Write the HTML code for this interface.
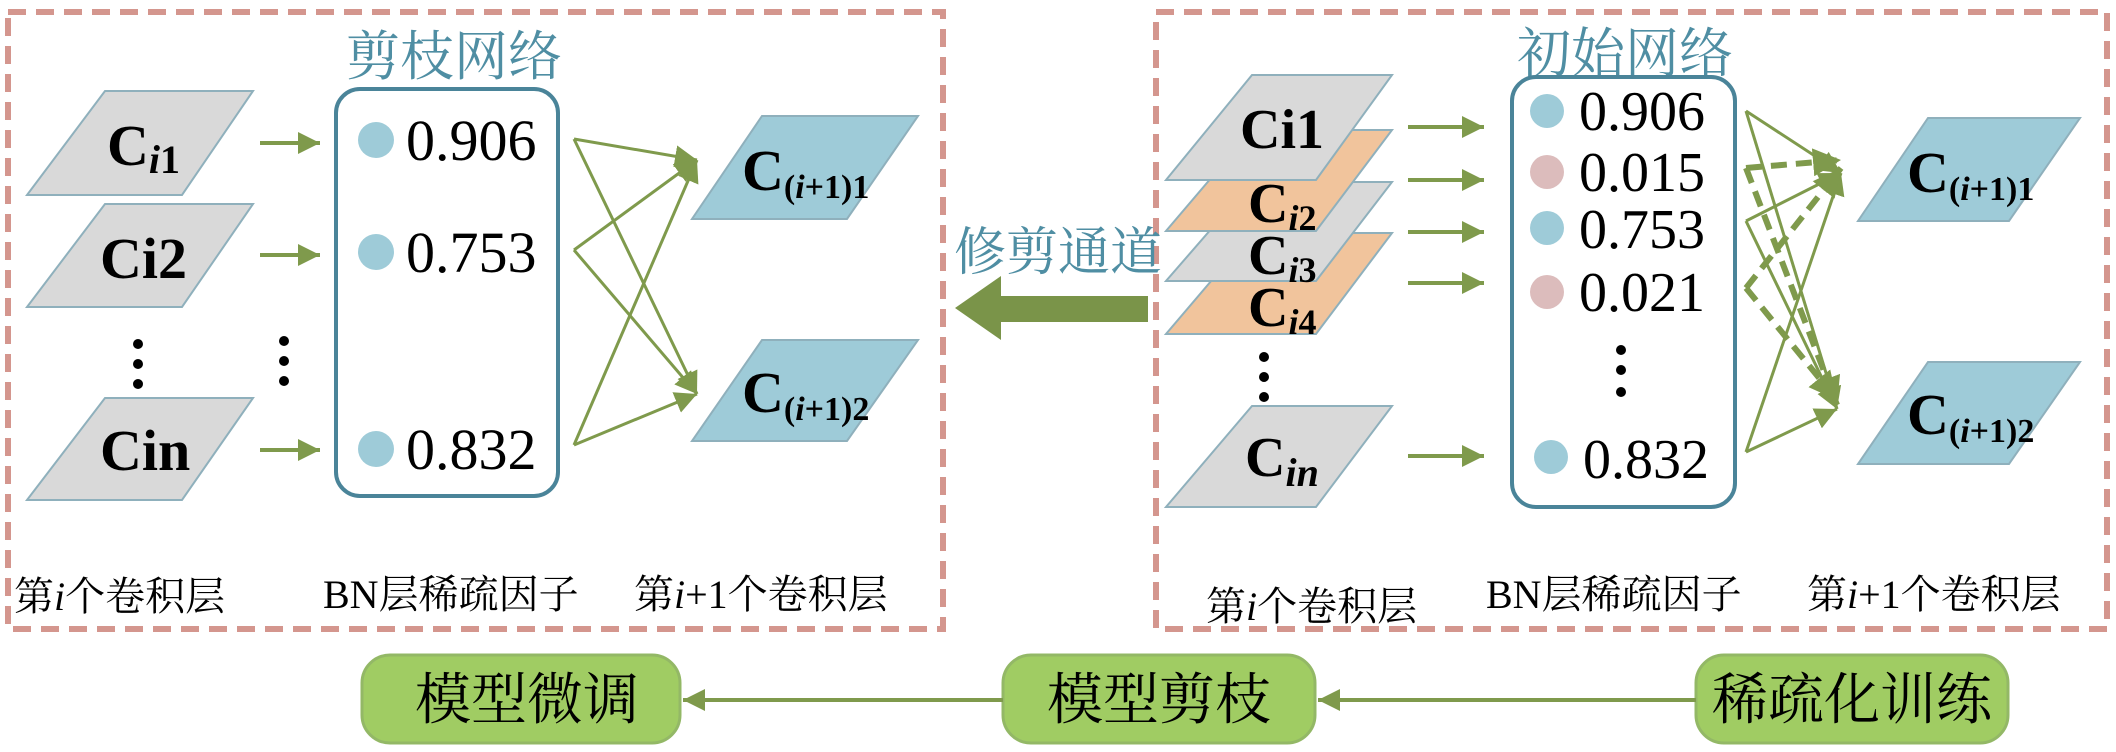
<!DOCTYPE html>
<html><head><meta charset="utf-8"><style>
html,body{margin:0;padding:0;background:#fff;}
svg{display:block;}
.cj{font-family:"Liberation Serif","Noto Serif CJK SC","Noto Sans CJK SC",serif;}
.bd{font-family:"Liberation Serif",serif;font-weight:bold;fill:#000;}
.num{font-family:"Liberation Serif",serif;fill:#000;}
</style></head><body>
<svg width="2116" height="752" viewBox="0 0 2116 752" xmlns="http://www.w3.org/2000/svg">
<defs>
<marker id="ah" viewBox="0 0 10 10" refX="10" refY="5" markerWidth="22" markerHeight="22" markerUnits="userSpaceOnUse" orient="auto"><path d="M0,0 L10,5 L0,10 z" fill="#7f9a4c"/></marker>
<marker id="ah2" viewBox="0 0 10 10" refX="10" refY="5" markerWidth="28" markerHeight="28" markerUnits="userSpaceOnUse" orient="auto"><path d="M0,0 L10,5 L0,10 z" fill="#7f9a4c"/></marker>
</defs>
<!-- dashed boxes -->
<rect x="8" y="12" width="935" height="617" fill="none" stroke="#d4968e" stroke-width="6" stroke-dasharray="18 10"/>
<rect x="1156" y="12" width="951" height="617" fill="none" stroke="#d4968e" stroke-width="6" stroke-dasharray="18 10"/>

<!-- LEFT -->
<text x="454" y="75" font-size="54" fill="#4f8ea3" text-anchor="middle" class="cj">剪枝网络</text>
<g stroke="#8fb0bc" stroke-width="2" fill="#d9d9d9">
<polygon points="105,91 253,91 182,195 27,195"/>
<polygon points="105,204 253,204 182,307 27,307"/>
<polygon points="105,398 253,398 182,500 27,500"/>
</g>
<text x="107" y="165" class="bd" font-size="58">C<tspan font-size="40" font-style="italic" dy="8">i</tspan><tspan font-size="40" dy="0">1</tspan></text>
<text x="100" y="278" class="bd" font-size="58">Ci2</text>
<text x="100" y="470" class="bd" font-size="58">Cin</text>
<g stroke="#7f9a4c" stroke-width="4" marker-end="url(#ah)">
<line x1="260" y1="143" x2="320" y2="143"/>
<line x1="260" y1="255" x2="320" y2="255"/>
<line x1="260" y1="450" x2="320" y2="450"/>
</g>
<g fill="#000">
<circle cx="138" cy="344" r="5"/><circle cx="138" cy="364" r="5"/><circle cx="138" cy="384" r="5"/>
<circle cx="284" cy="341" r="5"/><circle cx="284" cy="361" r="5"/><circle cx="284" cy="381" r="5"/>
<circle cx="446" cy="341" r="5"/><circle cx="446" cy="361" r="5"/><circle cx="446" cy="381" r="5"/>
</g>
<rect x="336" y="89" width="222" height="407" rx="24" fill="#fff" stroke="#4a8499" stroke-width="4"/>
<g fill="#9ecbd8"><circle cx="376" cy="140" r="18"/><circle cx="376" cy="252" r="18"/><circle cx="376" cy="449" r="18"/></g>
<g class="num" font-size="58"><text x="406" y="160">0.906</text><text x="406" y="272">0.753</text><text x="406" y="469">0.832</text></g>
<g stroke="#7f9a4c" stroke-width="3" fill="none" marker-end="url(#ah)">
<line x1="574" y1="139" x2="697" y2="160"/>
<line x1="574" y1="139" x2="697" y2="394"/>
<line x1="574" y1="250" x2="697" y2="160"/>
<line x1="574" y1="250" x2="697" y2="394"/>
<line x1="574" y1="445" x2="697" y2="160"/>
<line x1="574" y1="445" x2="697" y2="394"/>
</g>
<g stroke="#8fb0bc" stroke-width="2" fill="#9ecbd8">
<polygon points="762,116 918,116 847,219 692,219"/>
<polygon points="762,340 918,340 847,441 692,441"/>
</g>
<text x="742" y="190" class="bd" font-size="58">C<tspan font-size="34" dy="8">(<tspan font-style="italic">i</tspan>+1)1</tspan></text>
<text x="742" y="412" class="bd" font-size="58">C<tspan font-size="34" dy="8">(<tspan font-style="italic">i</tspan>+1)2</tspan></text>
<g class="cj" font-size="40" fill="#000">
<text x="14" y="610">第<tspan font-style="italic">i</tspan>个卷积层</text>
<text x="323" y="608">BN层稀疏因子</text>
<text x="634" y="608">第<tspan font-style="italic">i</tspan>+1个卷积层</text>
</g>

<!-- middle arrow -->
<text x="1058" y="270" font-size="52" fill="#4f8ea3" text-anchor="middle" class="cj">修剪通道</text>
<polygon points="955,308 1001,276 1001,296 1148,296 1148,322 1001,322 1001,340" fill="#7a9449"/>

<!-- RIGHT -->
<text x="1625" y="72" font-size="54" fill="#4f8ea3" text-anchor="middle" class="cj">初始网络</text>
<g stroke="#8fb0bc" stroke-width="2">
<polygon points="1252,406 1392,406 1316,507 1166,507" fill="#d9d9d9"/>
<polygon points="1252,233 1392,233 1316,334 1166,334" fill="#f1c49c"/>
<polygon points="1252,182 1392,182 1316,281 1166,281" fill="#d9d9d9"/>
<polygon points="1252,130 1392,130 1316,231 1166,231" fill="#f1c49c"/>
<polygon points="1252,75 1392,75 1316,180 1166,180" fill="#d9d9d9"/>
</g>
<text x="1240" y="148" class="bd" font-size="56">Ci1</text>
<text x="1248" y="222" class="bd" font-size="56">C<tspan font-size="36" font-style="italic" dy="8">i</tspan><tspan font-size="36">2</tspan></text>
<text x="1248" y="274" class="bd" font-size="56">C<tspan font-size="36" font-style="italic" dy="8">i</tspan><tspan font-size="36">3</tspan></text>
<text x="1248" y="326" class="bd" font-size="56">C<tspan font-size="36" font-style="italic" dy="8">i</tspan><tspan font-size="36">4</tspan></text>
<text x="1245" y="476" class="bd" font-size="56">C<tspan font-size="40" font-style="italic" dy="10">in</tspan></text>
<g fill="#000"><circle cx="1264" cy="357" r="5"/><circle cx="1264" cy="377" r="5"/><circle cx="1264" cy="397" r="5"/></g>
<g stroke="#7f9a4c" stroke-width="4" marker-end="url(#ah)">
<line x1="1408" y1="127" x2="1484" y2="127"/>
<line x1="1408" y1="180" x2="1484" y2="180"/>
<line x1="1408" y1="232" x2="1484" y2="232"/>
<line x1="1408" y1="283" x2="1484" y2="283"/>
<line x1="1408" y1="456" x2="1484" y2="456"/>
</g>
<rect x="1512" y="77" width="223" height="430" rx="24" fill="#fff" stroke="#4a8499" stroke-width="4"/>
<circle cx="1547" cy="111" r="17" fill="#9ecbd8"/>
<circle cx="1547" cy="172" r="17" fill="#dcbcbc"/>
<circle cx="1547" cy="228" r="17" fill="#9ecbd8"/>
<circle cx="1547" cy="292" r="17" fill="#dcbcbc"/>
<circle cx="1551" cy="457" r="17" fill="#9ecbd8"/>
<g class="num" font-size="56"><text x="1579" y="130">0.906</text><text x="1579" y="191">0.015</text><text x="1579" y="248">0.753</text><text x="1579" y="311">0.021</text><text x="1583" y="478">0.832</text></g>
<g fill="#000"><circle cx="1621" cy="350" r="5"/><circle cx="1621" cy="370" r="5"/><circle cx="1621" cy="392" r="5"/></g>
<g stroke="#7f9a4c" stroke-width="3" fill="none" marker-end="url(#ah)">
<line x1="1746" y1="111" x2="1841" y2="173"/>
<line x1="1746" y1="111" x2="1837" y2="409"/>
<line x1="1746" y1="221" x2="1841" y2="173"/>
<line x1="1746" y1="221" x2="1837" y2="409"/>
<line x1="1746" y1="452" x2="1841" y2="173"/>
<line x1="1746" y1="452" x2="1837" y2="409"/>
</g>
<g stroke="#7f9a4c" stroke-width="6" fill="none" stroke-dasharray="16 9" marker-end="url(#ah2)">
<line x1="1746" y1="168" x2="1841" y2="160"/>
<line x1="1746" y1="168" x2="1837" y2="405"/>
<line x1="1746" y1="288" x2="1841" y2="168"/>
<line x1="1746" y1="288" x2="1837" y2="400"/>
</g>
<g stroke="#8fb0bc" stroke-width="2" fill="#9ecbd8">
<polygon points="1928,118 2080,118 2009,221 1858,221"/>
<polygon points="1928,362 2080,362 2009,464 1858,464"/>
</g>
<text x="1907" y="192" class="bd" font-size="58">C<tspan font-size="34" dy="8">(<tspan font-style="italic">i</tspan>+1)1</tspan></text>
<text x="1907" y="434" class="bd" font-size="58">C<tspan font-size="34" dy="8">(<tspan font-style="italic">i</tspan>+1)2</tspan></text>
<g class="cj" font-size="40" fill="#000">
<text x="1206" y="620">第<tspan font-style="italic">i</tspan>个卷积层</text>
<text x="1486" y="608">BN层稀疏因子</text>
<text x="1807" y="608">第<tspan font-style="italic">i</tspan>+1个卷积层</text>
</g>

<!-- bottom flow -->
<g fill="#a0cc63" stroke="#93b866" stroke-width="3">
<rect x="362" y="655" width="318" height="88" rx="28"/>
<rect x="1003" y="655" width="312" height="88" rx="28"/>
<rect x="1696" y="655" width="312" height="88" rx="28"/>
</g>
<g stroke="#7f9a4c" stroke-width="4" marker-end="url(#ah)">
<line x1="1003" y1="700" x2="683" y2="700"/>
<line x1="1696" y1="700" x2="1318" y2="700"/>
</g>
<g class="cj" font-size="56" fill="#000" text-anchor="middle">
<text x="527" y="719">模型微调</text>
<text x="1159" y="719">模型剪枝</text>
<text x="1852" y="719">稀疏化训练</text>
</g>
</svg>
</body></html>
